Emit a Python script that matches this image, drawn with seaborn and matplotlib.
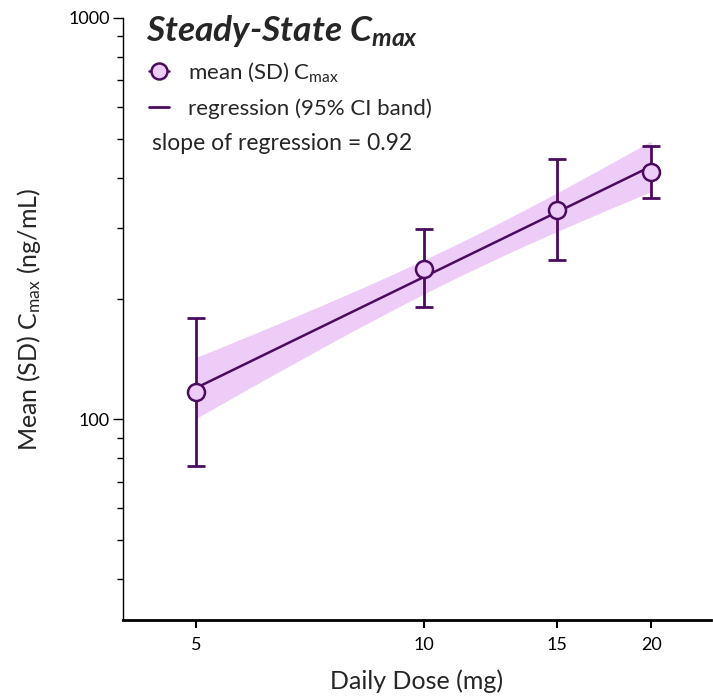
import numpy as np
import pandas as pd
import matplotlib
matplotlib.use("Agg")
import matplotlib.pyplot as plt
import matplotlib.ticker as mticker
from matplotlib.lines import Line2D
import seaborn as sns

# ---- data ----
dose = [5, 10, 15, 20]
cmax_mean = [116.8, 236.6, 332.6, 413.0]
cmax_lower = [76.4, 190.2, 249.6, 355.7]
cmax_upper = [178.6, 297.7, 445.0, 480.0]
x_ticks = [5, 10, 15, 20]
y_ticks = [100, 1000]
slope_label = "slope of regression = 0.92"

DARK = "#4B0B5F"
LIGHT = "#EDCCF7"

sns.set_style("ticks")
plt.rcParams["font.family"] = ["Lato", "DejaVu Sans"]
plt.rcParams["mathtext.default"] = "regular"

fig = plt.figure(figsize=(7.13, 6.96), dpi=100)
ax = fig.add_axes([123 / 713, 1 - 620 / 696, (711 - 123) / 713, (620 - 18) / 696])

df = pd.DataFrame({"dose": dose, "mean": cmax_mean,
                   "lo": cmax_lower, "hi": cmax_upper})

# regression on log-log scale with 95% CI
lx = np.log10(df["dose"].to_numpy(float))
ly = np.log10(df["mean"].to_numpy(float))
n = len(lx)
b, a = np.polyfit(lx, ly, 1)
resid = ly - (a + b * lx)
s = np.sqrt(np.sum(resid ** 2) / (n - 2))
sxx = np.sum((lx - lx.mean()) ** 2)
t_crit = 4.302652729911275  # t(0.975, df=2)
gx = np.linspace(lx.min(), lx.max(), 200)
gy = a + b * gx
se = s * np.sqrt(1 / n + (gx - lx.mean()) ** 2 / sxx)
fit = pd.DataFrame({"x": 10 ** gx, "y": 10 ** gy,
                    "lo": 10 ** (gy - t_crit * se), "hi": 10 ** (gy + t_crit * se)})

ax.fill_between(fit["x"], fit["lo"], fit["hi"], color=LIGHT, lw=0, zorder=1)
sns.lineplot(data=fit, x="x", y="y", ax=ax, color=DARK, lw=1.8, zorder=2)

ax.errorbar(df["dose"], df["mean"],
            yerr=[df["mean"] - df["lo"], df["hi"] - df["mean"]],
            fmt="none", ecolor=DARK, elinewidth=2.0, capsize=6.4,
            capthick=2.0, zorder=3)
sns.scatterplot(data=df, x="dose", y="mean", ax=ax, s=150, color=LIGHT,
                edgecolor=DARK, linewidth=1.8, zorder=4)

ax.set_xscale("log")
ax.set_yscale("log")
ax.set_xlim(4, 24)
ax.set_ylim(10 ** 1.5, 1000)
ax.xaxis.set_major_locator(mticker.FixedLocator(x_ticks))
ax.xaxis.set_major_formatter(mticker.FixedFormatter([str(v) for v in x_ticks]))
ax.xaxis.set_minor_locator(mticker.NullLocator())
ax.yaxis.set_major_locator(mticker.FixedLocator(y_ticks))
ax.yaxis.set_major_formatter(mticker.FixedFormatter([str(v) for v in y_ticks]))
ax.yaxis.set_minor_locator(mticker.LogLocator(base=10, subs=np.arange(2, 10)))
ax.yaxis.set_minor_formatter(mticker.NullFormatter())

for sp in ["top", "right"]:
    ax.spines[sp].set_visible(False)
ax.spines["left"].set_linewidth(1.0)
ax.spines["bottom"].set_linewidth(2.0)
ax.spines["left"].set_color("black")
ax.spines["bottom"].set_color("black")
ax.tick_params(axis="x", which="major", length=6, width=1.5, pad=6,
               labelsize=13, colors="black")
ax.tick_params(axis="y", which="major", length=7.5, width=1.0, pad=2,
               labelsize=13, colors="black")
ax.tick_params(axis="y", which="minor", length=4, width=1.0, colors="black")

ax.set_xlabel("Daily Dose (mg)", fontsize=18, labelpad=12)
ax.set_ylabel("Mean (SD) C$_{max}$ (ng/mL)", fontsize=18, labelpad=18)

fig.text(146 / 713, 1 - 41 / 696, "Steady-State C$_{max}$", fontsize=25.5,
         fontweight="bold", fontstyle="italic", va="baseline", ha="left")

handles = [
    Line2D([], [], color=DARK, lw=1.8, marker="o", markersize=11.5,
           markerfacecolor=LIGHT, markeredgecolor=DARK, markeredgewidth=1.8),
    Line2D([], [], color=DARK, lw=2.0),
]
labels = ["mean (SD) C$_{max}$", "regression (95% CI band)"]
leg = ax.legend(handles, labels, loc="upper left",
                bbox_to_anchor=(149 / 713, 1 - 60 / 696),
                bbox_transform=fig.transFigure, frameon=False, fontsize=16,
                handlelength=0.9, handletextpad=0.85, labelspacing=0.65,
                borderaxespad=0, borderpad=0)

fig.text(152 / 713, 1 - 143 / 696, slope_label, fontsize=16.5,
         va="center", ha="left")

fig.savefig("out.png", dpi=100)
